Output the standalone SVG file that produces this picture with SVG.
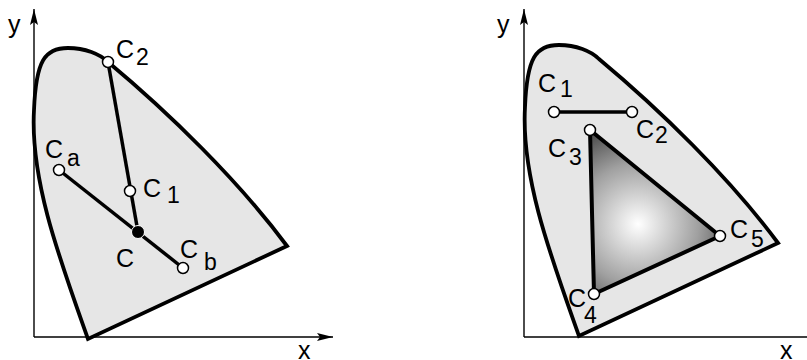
<svg xmlns="http://www.w3.org/2000/svg" width="807" height="360" viewBox="0 0 807 360">
<style>
.ax{stroke:#000;stroke-width:1.4;fill:none}
.gam{fill:#e6e6e6;stroke:#000;stroke-width:3.8;stroke-linejoin:miter}
.ln{stroke:#000;stroke-width:3.5;fill:none}
.pt{fill:#fff;stroke:#000;stroke-width:1.5}
.t{font-family:"Liberation Sans",Arial,sans-serif;font-size:25px;fill:#000}
.s{font-family:"Liberation Sans",Arial,sans-serif;font-size:23px;fill:#000}
</style>
<defs>
<marker id="ah" viewBox="0 0 16 8" refX="16" refY="4" markerWidth="16" markerHeight="8" markerUnits="userSpaceOnUse" orient="auto">
<path d="M0,0 L16,4 L0,8 L3,4 Z" fill="#000"/>
</marker>
<path id="gamut" d="M88,339 C60,260 30,180 34,110 C36,60 45,48 68,48 C85,48 100,54 108,62 C168,112 238,180 287,246 L88,339 Z"/>
<radialGradient id="tri" gradientUnits="userSpaceOnUse" cx="638" cy="224" r="110">
<stop offset="0" stop-color="#ffffff"/>
<stop offset="0.55" stop-color="#a0a0a0"/>
<stop offset="1" stop-color="#383838"/>
</radialGradient>
</defs>

<g id="left-axes">
<line class="ax" x1="34" y1="337" x2="34" y2="9" marker-end="url(#ah)"/>
<line class="ax" x1="34" y1="337" x2="333" y2="337" marker-end="url(#ah)"/>
<text class="t" x="8" y="33">y</text>
<text class="t" x="298" y="359">x</text>
</g>
<g id="left-gamut">
<use href="#gamut" class="gam"/>
</g>
<g id="left-connectors">
<line class="ln" x1="108" y1="62" x2="138" y2="232"/>
<line class="ln" x1="59" y1="170" x2="183" y2="268"/>
</g>
<g id="node-C2-left"><circle class="pt" cx="108" cy="62" r="5.5"/><text class="t" x="116" y="58">C</text><text class="s" x="136" y="65">2</text></g>
<g id="node-C1-left"><circle class="pt" cx="130" cy="191" r="5.5"/><text class="t" x="143" y="197">C</text><text class="s" x="167" y="203">1</text></g>
<g id="node-Ca"><circle class="pt" cx="59" cy="170" r="5.5"/><text class="t" x="45" y="158">C</text><text class="s" x="67" y="166">a</text></g>
<g id="node-Cb"><circle class="pt" cx="183" cy="268" r="5.5"/><text class="t" x="180" y="258">C</text><text class="s" x="204" y="270">b</text></g>
<g id="node-C"><circle cx="138" cy="232" r="6.5" fill="#000" stroke="#fff" stroke-width="1"/><text class="t" x="116" y="267">C</text></g>

<g id="right-axes">
<line class="ax" x1="524" y1="337" x2="524" y2="9" marker-end="url(#ah)"/>
<line class="ax" x1="524" y1="337" x2="823" y2="337" marker-end="url(#ah)"/>
<text class="t" x="497" y="33">y</text>
<text class="t" x="780" y="359">x</text>
</g>
<g id="right-gamut">
<use href="#gamut" class="gam" transform="translate(491,-3)"/>
</g>
<g id="right-connectors">
<line class="ln" x1="554" y1="112" x2="632" y2="112" stroke-width="3"/>
<polygon points="590,130 594,294 720,236" fill="url(#tri)" stroke="#000" stroke-width="4" stroke-linejoin="round"/>
</g>
<g id="node-C1-right"><circle class="pt" cx="554" cy="112" r="5.5"/><text class="t" x="538" y="92">C</text><text class="s" x="560" y="97">1</text></g>
<g id="node-C2-right"><circle class="pt" cx="632" cy="112" r="5.5"/><text class="t" x="636" y="138">C</text><text class="s" x="655" y="143">2</text></g>
<g id="node-C3"><circle class="pt" cx="590" cy="130" r="5.5"/><text class="t" x="548" y="157">C</text><text class="s" x="569" y="165">3</text></g>
<g id="node-C4"><circle class="pt" cx="594" cy="294" r="5.5"/><text class="t" x="568" y="307">C</text><text class="s" x="584" y="323">4</text></g>
<g id="node-C5"><circle class="pt" cx="720" cy="236" r="5.5"/><text class="t" x="730" y="238">C</text><text class="s" x="751" y="247">5</text></g>
</svg>
